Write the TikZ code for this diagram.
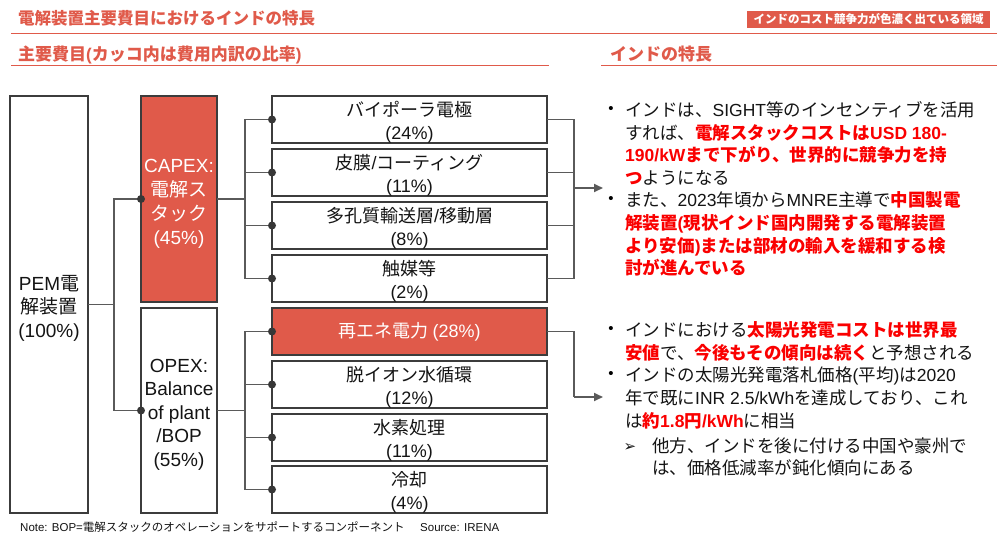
\documentclass[tikz,border=0pt]{standalone}
\usepackage{fontspec}
\setmainfont{Noto Sans CJK JP}
\newfontfamily\lat{Liberation Sans}
\newfontfamily\dvs{DejaVu Sans}
\usetikzlibrary{arrows.meta}
\definecolor{hdred}{RGB}{224,90,74}
\definecolor{txred}{RGB}{250,0,0}
\definecolor{bord}{RGB}{60,60,60}
\definecolor{lnc}{RGB}{90,90,90}
\definecolor{dotg}{RGB}{55,55,55}
\definecolor{ink}{RGB}{20,20,20}
\newcommand\R[1]{{\color{txred}\bfseries #1}}
\newcommand\fs[2]{\fontsize{#1}{#2}\selectfont}
\begin{document}
\begin{tikzpicture}[x=1pt,y=-1pt,
  box/.style={draw=bord, line width=1.2pt, inner sep=0pt, outer sep=0pt, fill=white},
  redbox/.style={box, fill=hdred},
  conn/.style={draw=lnc, line width=1.8pt},
  dotc/.style={fill=dotg},
  arr/.style={conn, -{Triangle[length=9pt,width=8pt]}},
  hline/.style={draw=hdred, line width=1pt},
  lbl/.style={anchor=base, inner sep=0pt, text=ink},
  big/.style={lbl, font=\fs{19}{23}},
  mid/.style={lbl, font=\fs{18}{22}},
  bl/.style={anchor=base west, inner sep=0pt, text=ink, font=\fs{17.5}{22}},
  dotb/.style={anchor=base, inner sep=0pt, text=black, font=\lat\fs{15}{17}},
  hd/.style={anchor=base west, inner sep=0pt, text=hdred}
]
\useasboundingbox (0,0) rectangle (1007,538);
\fill[white] (0,0) rectangle (1007,538);

% headers
\node[hd, font=\fs{16.5}{20}\bfseries] (title) at (18,24) {電解装置主要費目におけるインドの特長};
\node[fill=hdred, minimum width=243pt, minimum height=17pt, inner sep=0pt, text=white, font=\fs{11.5}{13}\bfseries] (tag) at (868.5,19.5) {インドのコスト競争力が色濃く出ている領域};
\draw[hline] (11,33) -- (997,33);
\node[hd, font=\fs{17}{20}\bfseries] (sub1) at (18,60) {主要費目{\lat (}カッコ内は費用内訳の比率{\lat )}};
\node[hd, font=\fs{17}{20}\bfseries] (sub2) at (610,60) {インドの特長};
\draw[hline] (11,65) -- (549,65);
\draw[hline] (601,65) -- (997,65);

% boxes
\node[box, minimum width=78pt, minimum height=417pt] (pem) at (49,304.5) {};
\node[redbox, minimum width=76pt, minimum height=206pt] (capex) at (179,199) {};
\node[box, minimum width=76pt, minimum height=205pt] (opex) at (179,410.5) {};
\node[box, minimum width=275pt, minimum height=47pt] (b1) at (409.5,119.5) {};
\node[box, minimum width=275pt, minimum height=47pt] (b2) at (409.5,172.5) {};
\node[box, minimum width=275pt, minimum height=47pt] (b3) at (409.5,225.5) {};
\node[box, minimum width=275pt, minimum height=47pt] (b4) at (409.5,278.5) {};
\node[redbox, minimum width=275pt, minimum height=47pt, text=white, font=\fs{18}{22}] (b5) at (409.5,331.5) {再エネ電力 {\lat (28\%)}};
\node[box, minimum width=275pt, minimum height=47pt] (b6) at (409.5,384.5) {};
\node[box, minimum width=275pt, minimum height=47pt] (b7) at (409.5,437.5) {};
\node[box, minimum width=275pt, minimum height=47pt] (b8) at (409.5,489.5) {};

% box texts
\node[big] (pt1) at (49,290) {{\lat PEM}電};
\node[big] (pt2) at (49,313.5) {解装置};
\node[big] (pt3) at (49,337) {\lat (100\%)};
\node[big, text=white] (ct1) at (179,172) {\lat CAPEX:};
\node[big, text=white] (ct2) at (179,196) {電解ス};
\node[big, text=white] (ct3) at (179,220) {タック};
\node[big, text=white] (ct4) at (179,244) {\lat (45\%)};
\node[big] (ot1) at (179,372) {\lat OPEX:};
\node[big] (ot2) at (179,395.5) {\lat Balance};
\node[big] (ot3) at (179,419) {\lat of plant};
\node[big] (ot4) at (179,442.5) {\lat /BOP};
\node[big] (ot5) at (179,466) {\lat (55\%)};

\node[mid] (t1a) at (409.5,116) {バイポーラ電極};
\node[mid] (t1b) at (409.5,139) {\lat (24\%)};
\node[mid] (t2a) at (409.5,169) {皮膜{\lat /}コーティング};
\node[mid] (t2b) at (409.5,192) {\lat (11\%)};
\node[mid] (t3a) at (409.5,222) {多孔質輸送層{\lat /}移動層};
\node[mid] (t3b) at (409.5,245) {\lat (8\%)};
\node[mid] (t4a) at (409.5,275) {触媒等};
\node[mid] (t4b) at (409.5,298) {\lat (2\%)};
\node[mid] (t6a) at (409.5,381) {脱イオン水循環};
\node[mid] (t6b) at (409.5,404) {\lat (12\%)};
\node[mid] (t7a) at (409.5,434) {水素処理};
\node[mid] (t7b) at (409.5,457) {\lat (11\%)};
\node[mid] (t8a) at (409.5,486) {冷却};
\node[mid] (t8b) at (409.5,509) {\lat (4\%)};

% junction coordinates
\coordinate (j1) at (114,0);
\coordinate (j2) at (245,0);
\coordinate (j3) at (574,0);
\coordinate (a1) at (603,188);
\coordinate (a2) at (603,397);

% connectors
\draw[conn] (pem.east) -- (pem.east -| j1);
\draw[conn] (capex.west) -| (j1 |- opex.west) -- (opex.west);
\draw[conn] (capex.east) -- (capex.east -| j2);
\draw[conn] (b1.west) -| (j2 |- b4.west) -- (b4.west);
\draw[conn] (j2 |- b2.west) -- (b2.west);
\draw[conn] (j2 |- b3.west) -- (b3.west);
\draw[conn] (opex.east) -- (opex.east -| j2);
\draw[conn] (b5.west) -| (j2 |- b8.west) -- (b8.west);
\draw[conn] (j2 |- b6.west) -- (b6.west);
\draw[conn] (j2 |- b7.west) -- (b7.west);
\draw[conn] (b1.east) -| (j3 |- b4.east) -- (b4.east);
\draw[conn] (b2.east) -- (b2.east -| j3);
\draw[conn] (b3.east) -- (b3.east -| j3);
\draw[arr] (a1 -| j3) -- (a1);
\draw[conn] (b5.east) -| (j3 |- a2);
\draw[arr] (a2 -| j3) -- (a2);
\foreach \n in {capex,opex,b1,b2,b3,b4,b5,b6,b7,b8} \fill[dotc] (\n.west) circle (4);

% bullets, group 1
\node[dotb] (d1) at (611,113.5) {•};
\node[bl] (l1) at (625,116.5) {インドは、{\lat SIGHT}等のインセンティブを活用};
\node[bl] (l2) at (625,139.1) {すれば、\R{電解スタックコストは{\lat USD 180-}}};
\node[bl] (l3) at (625,161.7) {\R{{\lat 190/kW}まで下がり、世界的に競争力を持}};
\node[bl] (l4) at (625,184.3) {\R{つ}ようになる};
\node[dotb] (d2) at (611,203.9) {•};
\node[bl] (l5) at (625,206.9) {また、{\lat 2023}年頃から{\lat MNRE}主導で\R{中国製電}};
\node[bl] (l6) at (625,229.5) {\R{解装置{\lat (}現状インド国内開発する電解装置}};
\node[bl] (l7) at (625,252.1) {\R{より安価{\lat )}または部材の輸入を緩和する検}};
\node[bl] (l8) at (625,274.7) {\R{討が進んでいる}};

% bullets, group 2
\node[dotb] (d3) at (611,333.5) {•};
\node[bl] (m1) at (625,336.5) {インドにおける\R{太陽光発電コストは世界最}};
\node[bl] (m2) at (625,359.2) {\R{安値}で、\R{今後もその傾向は続く}と予想される};
\node[dotb] (d4) at (611,378.9) {•};
\node[bl] (m3) at (625,381.9) {インドの太陽光発電落札価格{\lat (}平均{\lat )}は{\lat 2020}};
\node[bl] (m4) at (625,404.6) {年で既に{\lat INR 2.5/kWh}を達成しており、これ};
\node[bl] (m5) at (625,427.3) {は\R{約{\lat 1.8}円{\lat /kWh}}に相当};
\node[anchor=base, inner sep=0pt, text=ink, font=\dvs\fs{15}{17}] (d5) at (630,451) {➢};
\node[bl] (m6) at (652,452) {他方、インドを後に付ける中国や豪州で};
\node[bl] (m7) at (652,474.5) {は、価格低減率が鈍化傾向にある};

% note
\node[anchor=base west, inner sep=0pt, text=ink, font=\fs{11.5}{13}] (note) at (20,531) {{\lat Note: BOP=}電解スタックのオペレーションをサポートするコンポーネント};
\node[anchor=base west, inner sep=0pt, text=ink, font=\lat\fs{11.5}{13}] (src) at (420,531) {Source: IRENA};
\end{tikzpicture}
\end{document}
